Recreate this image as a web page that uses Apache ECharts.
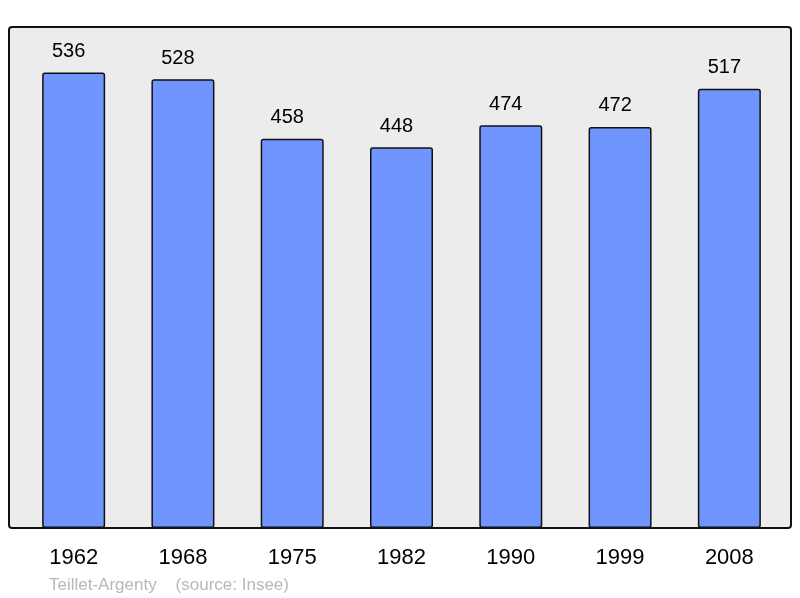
<!DOCTYPE html>
<html>
<head>
<meta charset="utf-8">
<script src="https://cdn.jsdelivr.net/npm/echarts@6/dist/echarts.min.js"></script>
<style>html,body{margin:0;padding:0;background:#fff;}#c{width:800px;height:598px;}</style>
</head>
<body>
<div id="c"></div>
<script>
var years = ['1962', '1968', '1975', '1982', '1990', '1999', '2008'];
var population = [536, 528, 458, 448, 474, 472, 517];
var sourceText = 'Teillet-Argenty    (source: Insee)';

var chart = echarts.init(document.getElementById('c'), null, {renderer: 'canvas'});
var maxVal = Math.max.apply(null, population) * 1.1;
chart.setOption({
  animation: false,
  textStyle: {fontFamily: 'Liberation Sans, Arial, sans-serif'},
  title: {
    text: sourceText,
    left: 49, top: 577, padding: 0,
    textStyle: {fontSize: 17, fontWeight: 'normal', color: '#b8b8b8', fontFamily: 'Liberation Sans, Arial, sans-serif'}
  },
  graphic: [{
    type: 'rect', z: -10, silent: true,
    shape: {x: 9, y: 27, width: 782, height: 501, r: 3},
    style: {fill: '#ececec', stroke: '#111', lineWidth: 2}
  }],
  grid: {left: 19, right: 16, top: 27, bottom: 70},
  xAxis: {
    type: 'category', data: years,
    axisLine: {show: false}, axisTick: {show: false},
    axisLabel: {fontSize: 22, color: '#000', margin: 19}
  },
  yAxis: {
    type: 'value', min: 0, max: maxVal,
    show: false, splitLine: {show: false}
  },
  series: [{
    type: 'bar', data: population, barWidth: 63,
    itemStyle: {color: '#7095ff', borderColor: '#111', borderWidth: 1.5, borderRadius: 2},
    label: {show: true, position: 'top', distance: 11, offset: [-5, 0], fontSize: 20, color: '#000'}
  }]
});
</script>
</body>
</html>
